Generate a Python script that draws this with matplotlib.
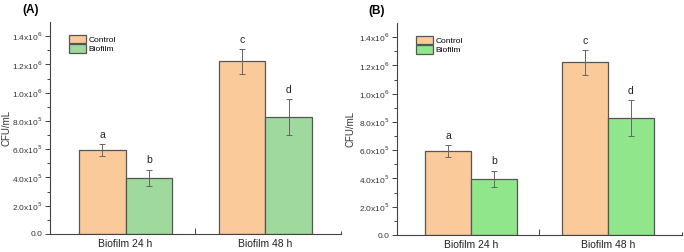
import numpy as np
import matplotlib
matplotlib.use("Agg")
import matplotlib.pyplot as plt

plt.rcParams["font.family"] = ["Liberation Sans", "DejaVu Sans"]

grupos   = ["Biofilm 24 h", "Biofilm 48 h"]
series   = ["Control", "Biofilm"]
controle = [0.592e6, 1.221e6]
ctrl_err = [0.042e6, 0.087e6]
biofilme = [0.396e6, 0.825e6]
bio_err  = [0.059e6, 0.127e6]
letras_ctrl = ["a", "c"]
letras_bio  = ["b", "d"]
yticks  = [0, 2e5, 4e5, 6e5, 8e5, 10e5, 12e5, 14e5]
ylabels = ["0.0", r"2.0x10$^5$", r"4.0x10$^5$", r"6.0x10$^5$", r"8.0x10$^5$",
           r"1.0x10$^6$", r"1.2x10$^6$", r"1.4x10$^6$"]

COR_CTRL = "#FBCA9B"
VERDES   = {"A": "#9FD99E", "B": "#8FE68B"}
BORDA    = "#555555"
LARG     = 0.333

fig = plt.figure(figsize=(6.84, 2.52), dpi=100)
caixas = {"A": [50/684, 18/252, 291/684, 212/252],
          "B": [397/684, 17/252, 285/684, 212/252]}
pos_rotulo = {"A": (-0.132, -0.096), "B": (-0.147, -0.099)}

for painel, caixa in caixas.items():
    ax = fig.add_axes(caixa)
    x = np.arange(1, len(grupos) + 1)
    kw_err = dict(ecolor="#666666", elinewidth=0.7, capsize=2.5, capthick=0.7)
    ax.bar(x - LARG/2, controle, LARG, yerr=ctrl_err, color=COR_CTRL,
           edgecolor=BORDA, linewidth=0.9, label=series[0], error_kw=kw_err, zorder=2)
    ax.bar(x + LARG/2, biofilme, LARG, yerr=bio_err, color=VERDES[painel],
           edgecolor=BORDA, linewidth=0.9, label=series[1], error_kw=kw_err, zorder=2)
    for xi, v, e, l in zip(x - LARG/2, controle, ctrl_err, letras_ctrl):
        ax.text(xi, v + e + 0.03e6, l, ha="center", va="bottom", fontsize=7.5, color="#222222")
    for xi, v, e, l in zip(x + LARG/2, biofilme, bio_err, letras_bio):
        ax.text(xi, v + e + 0.03e6, l, ha="center", va="bottom", fontsize=7.5, color="#222222")

    ax.set_xlim(0.46, 2.54)
    ax.set_ylim(0, 1.5e6)
    ax.spines["top"].set_visible(False)
    ax.spines["right"].set_visible(False)
    for s in ("left", "bottom"):
        ax.spines[s].set_color("#444444")
        ax.spines[s].set_linewidth(0.8)

    ax.set_yticks(yticks)
    ax.set_yticklabels(ylabels, fontsize=6, color="#333333")
    ax.set_yticks(np.arange(1e5, 1.5e6, 2e5), minor=True)
    ax.tick_params(axis="y", which="major", direction="out", length=3.5, width=0.7, color="#444444", pad=2)
    ax.tick_params(axis="y", which="minor", direction="out", length=2, width=0.7, color="#444444")

    ax.set_xticks([1.5])
    ax.set_xticklabels([])
    menores = np.linspace(0.46, 2.54, 11)
    ax.set_xticks([m for m in menores if abs(m - 1.5) > 1e-6], minor=True)
    ax.tick_params(axis="x", which="major", direction="in", length=4, width=0.7, color="#444444")
    ax.tick_params(axis="x", which="minor", direction="in", length=2.5, width=0.7, color="#444444")
    for xi, g in zip(x, grupos):
        ax.text(xi, -0.048, g, transform=ax.get_xaxis_transform(), ha="center", va="center",
                fontsize=7.5, color="#222222")

    ax.set_ylabel("CFU/mL", fontsize=7, color="#333333")
    ax.yaxis.set_label_coords(pos_rotulo[painel][0], 0.5)
    ax.legend(loc="upper left", bbox_to_anchor=(0.055, 0.955), frameon=False, fontsize=6,
              handlelength=2.0, handleheight=1.2, handletextpad=0.3, labelspacing=0.05,
              borderaxespad=0)
    ax.text(pos_rotulo[painel][1], 1.085, f"({painel})", transform=ax.transAxes,
            fontsize=8.5, fontweight="bold", ha="left", va="top")

fig.savefig("out.png", dpi=100)
